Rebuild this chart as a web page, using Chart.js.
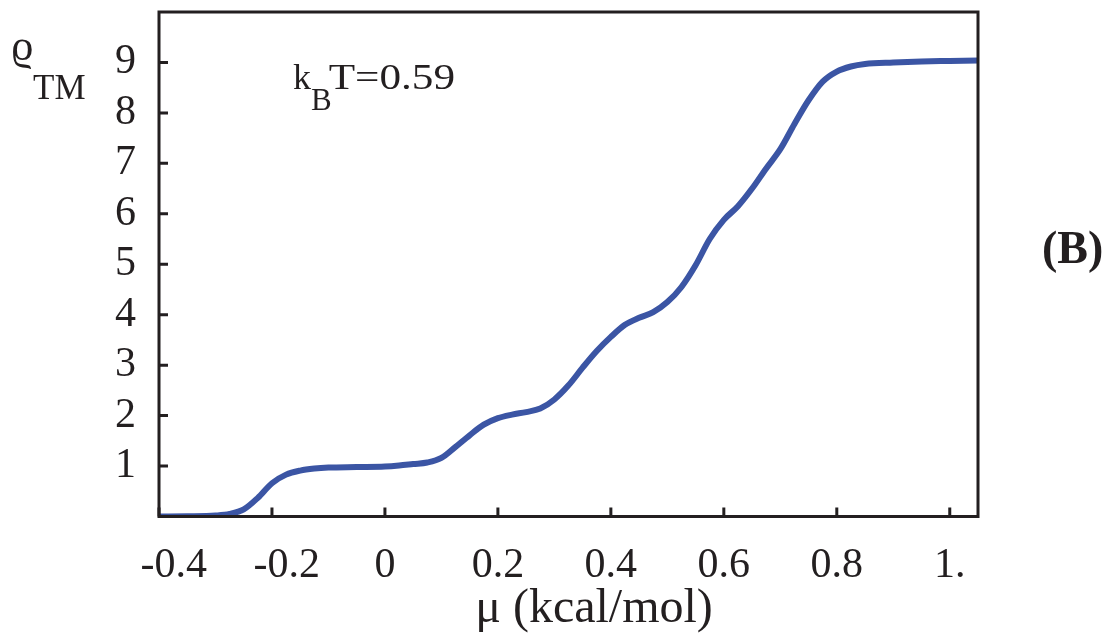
<!DOCTYPE html>
<html>
<head>
<meta charset="utf-8">
<script src="https://cdn.jsdelivr.net/npm/chart.js@4.4.1/dist/chart.umd.min.js"></script>
<style>
  html, body { margin: 0; padding: 0; background: #fff; }
  #caixa { width: 1117px; height: 639px; }
</style>
</head>
<body>
<div id="caixa"><canvas id="grafico_rho"></canvas></div>
<script>
// mu (kcal/mol) e ocupacao rho_TM
var mu = [-0.40, -0.35, -0.30, -0.275, -0.25, -0.225, -0.20, -0.175, -0.15, -0.125,
          -0.10, -0.05, 0.00, 0.025, 0.05, 0.075, 0.10, 0.125, 0.15, 0.175,
          0.20, 0.225, 0.25, 0.275, 0.30, 0.325, 0.35, 0.375, 0.40, 0.425,
          0.45, 0.475, 0.50, 0.525, 0.55, 0.575, 0.60, 0.625, 0.65, 0.675,
          0.70, 0.725, 0.75, 0.775, 0.80, 0.825, 0.85, 0.90, 0.95, 1.00, 1.05];
var rho = [0.00, 0.005, 0.02, 0.05, 0.14, 0.37, 0.66, 0.83, 0.91, 0.95,
           0.97, 0.98, 0.99, 1.01, 1.04, 1.07, 1.16, 1.38, 1.61, 1.82,
           1.95, 2.02, 2.07, 2.14, 2.32, 2.60, 2.95, 3.28, 3.56, 3.80,
           3.94, 4.05, 4.25, 4.55, 4.98, 5.50, 5.88, 6.15, 6.50, 6.90,
           7.28, 7.78, 8.25, 8.62, 8.82, 8.92, 8.97, 9.00, 9.02, 9.03, 9.04];

var xTicks = [-0.4, -0.2, 0, 0.2, 0.4, 0.6, 0.8, 1.0];
var xLabels = ["\u2002\u2009-0.4", "\u2002\u2009-0.2", "0", "0.2", "0.4", "0.6", "0.8", "1."];
var yTicks = [1, 2, 3, 4, 5, 6, 7, 8, 9];

var serif = "'Liberation Serif', 'DejaVu Serif', serif";
var ink = "#231f20";

var pontos = mu.map(function(m, i) { return { x: m, y: rho[i] }; });

function semPadding(s) {
  s.paddingTop = 0; s.paddingBottom = 0; s.paddingLeft = 0; s.paddingRight = 0;
}

var moldura = {
  id: 'moldura',
  afterDraw: function(chart) {
    var c = chart.ctx, a = chart.chartArea;
    var sx = chart.scales.x, sy = chart.scales.y;
    c.save();
    c.strokeStyle = ink;
    c.lineWidth = 3;
    c.beginPath();
    sx.ticks.forEach(function(t) {
      var p = sx.getPixelForValue(t.value);
      c.moveTo(p, a.bottom); c.lineTo(p, a.bottom - 9);
    });
    sy.ticks.forEach(function(t) {
      var p = sy.getPixelForValue(t.value);
      c.moveTo(a.left, p); c.lineTo(a.left + 9, p);
    });
    c.stroke();
    c.strokeRect(a.left, a.top, a.right - a.left, a.bottom - a.top);

    // textos
    c.fillStyle = ink;
    c.textBaseline = 'alphabetic';
    c.textAlign = 'left';
    c.font = "44px " + serif;
    c.fillText("\u03f1", 11, 60);
    c.font = "35px " + serif;
    c.fillText("TM", 33, 99);

    var x0 = 293;
    c.font = "36px " + serif;
    c.fillText("k", x0, 89);
    x0 += c.measureText("k").width;
    c.font = "31px " + serif;
    c.fillText("B", x0, 110);
    x0 += c.measureText("B").width - 3;
    c.font = "36px " + serif;
    c.save();
    c.translate(x0, 89);
    c.scale(1.2, 1);
    c.fillText("T=0.59", 0, 0);
    c.restore();

    c.font = "bold 46px " + serif;
    c.fillText("(B)", 1042, 263);

    c.font = "48px " + serif;
    c.textAlign = 'center';
    c.fillText("\u03bc (kcal/mol)", 594, 622);
    c.restore();
  }
};

new Chart(document.getElementById("grafico_rho"), {
  type: 'line',
  data: {
    datasets: [{
      label: "rho_TM",
      data: pontos,
      borderColor: "#3b55a4",
      borderWidth: 6,
      pointRadius: 0,
      cubicInterpolationMode: 'monotone',
      fill: false
    }]
  },
  options: {
    responsive: true,
    maintainAspectRatio: false,
    animation: false,
    layout: { padding: { left: 0, top: 12, right: 139, bottom: 0 } },
    plugins: { legend: { display: false }, tooltip: { enabled: false } },
    scales: {
      x: {
        type: 'linear',
        min: -0.4,
        max: 1.05,
        grid: { display: false, drawTicks: false },
        border: { display: false },
        afterBuildTicks: function(s) { s.ticks = xTicks.map(function(v) { return { value: v }; }); },
        afterFit: function(s) { s.height = 122.5; semPadding(s); },
        ticks: {
          autoSkip: false,
          maxRotation: 0,
          padding: 24,
          color: ink,
          font: { family: serif, size: 42 },
          callback: function(v) {
            var i = xTicks.indexOf(Math.round(v * 10) / 10);
            return i >= 0 ? xLabels[i] : "";
          }
        }
      },
      y: {
        min: 0,
        max: 10,
        grid: { display: false, drawTicks: false },
        border: { display: false },
        afterBuildTicks: function(s) { s.ticks = yTicks.map(function(v) { return { value: v }; }); },
        afterFit: function(s) { s.width = 159; semPadding(s); },
        ticks: {
          padding: 23,
          color: ink,
          font: { family: serif, size: 42 },
          callback: function(v) { return String(v); }
        }
      }
    }
  },
  plugins: [moldura]
});
</script>
</body>
</html>
